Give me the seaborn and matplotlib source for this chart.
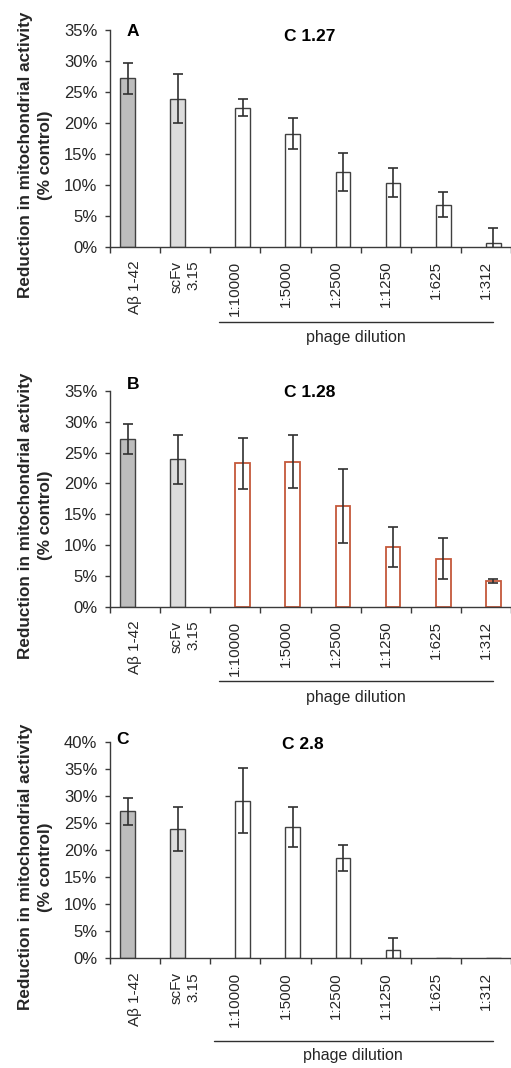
import numpy as np
import pandas as pd
import matplotlib
matplotlib.use("Agg")
import matplotlib.pyplot as plt
import seaborn as sns

# ---------------- data ----------------
categories = ["A\u03b2 1-42", "scFv\n3.15", "1:10000", "1:5000", "1:2500", "1:1250", "1:625", "1:312"]
groups = ["control", "control", "phage", "phage", "phage", "phage", "phage", "phage"]

panel_letters = ["A", "B", "C"]
panel_titles = ["C 1.27", "C 1.28", "C 2.8"]

values_A = [27.2, 23.9, 22.45, 18.25, 12.05, 10.3, 6.8, 0.65]
err_A = [2.5, 4.0, 1.4, 2.55, 3.1, 2.35, 2.0, 2.3]
values_B = [27.2, 23.9, 23.3, 23.55, 16.4, 9.7, 7.8, 4.2]
err_B = [2.5, 4.0, 4.15, 4.35, 6.0, 3.3, 3.3, 0.3]
values_C = [27.2, 24.0, 29.2, 24.4, 18.6, 1.5, 0.0, 0.0]
err_C = [2.5, 4.1, 6.0, 3.7, 2.4, 2.25, 0.0, 0.0]

y_max = [35, 35, 40]
y_label = "Reduction in mitochondrial activity\n(% control)"
group_label = "phage dilution"

# ---------------- style ----------------
sns.set_style("ticks")
plt.rcParams["font.family"] = ["Liberation Sans", "DejaVu Sans"]
TXT = "#262626"
AX = "#3a3a3a"

fig = plt.figure(figsize=(5.11, 10.68), dpi=100)
H = 1068.0
W = 511.0

# pixel geometry of axes (top, bottom)
rows = [(30.0, 246.7), (391.0, 606.7), (742.3, 958.3)]
left_px, right_px = 110.0, 511.0

control_colors = ["#bdbdbd", "#dcdcdc"]
phage_edges = ["#404040", "#c4583a", "#404040"]

panels = [(values_A, err_A), (values_B, err_B), (values_C, err_C)]

# positions for annotations (axes-fraction y, data x)
letter_pos = [(-0.04, 0.995), (-0.04, 1.028), (-0.25, 1.011)]
title_pos = [(3.48, 0.972), (3.48, 0.995), (3.34, 0.992)]
line_pos = [(1.665, 7.14, -0.346, -0.418), (1.665, 7.14, -0.344, -0.423),
            (1.567, 7.14, -0.381, -0.449)]

for i, (vals, errs) in enumerate(panels):
    top, bot = rows[i]
    ax = fig.add_axes([left_px / W, 1 - bot / H, (right_px - left_px) / W, (bot - top) / H])
    df = pd.DataFrame({"cat": categories, "grp": groups, "val": vals, "err": errs})
    sns.barplot(data=df, x="cat", y="val", hue="grp", order=categories,
                hue_order=["control", "phage"], dodge=True, width=0.59,
                errorbar=None, legend=False, ax=ax, linewidth=1.0)
    # colours
    for j, p in enumerate(ax.containers[0].patches):
        p.set_facecolor(control_colors[j])
        p.set_edgecolor("#404040")
        p.set_linewidth(1.0)
    for p in ax.containers[1].patches:
        p.set_facecolor("white")
        p.set_edgecolor(phage_edges[i])
        p.set_linewidth(1.3 if i == 1 else 1.0)
    # error bars at the bar centres
    patches = list(ax.containers[0].patches) + list(ax.containers[1].patches)
    for p, v, e in zip(patches, vals, errs):
        if e > 0:
            xc = p.get_x() + p.get_width() / 2
            ax.errorbar(xc, v, yerr=e, fmt="none", ecolor="#303030",
                        elinewidth=1.2, capsize=3.6, capthick=1.2, zorder=5)

    ax.set_xlim(-0.5, 7.394)
    ax.set_ylim(0, y_max[i])
    yt = np.arange(0, y_max[i] + 1, 5)
    ax.set_yticks(yt)
    ax.set_yticklabels([f"{t}%" for t in yt])
    ax.set_xticks(np.arange(-0.5, 8, 1))
    ax.set_xticklabels([])
    ax.set_xticks(np.arange(len(categories)), minor=True)
    ax.set_xticklabels(categories, minor=True, rotation=90, fontsize=11,
                       color=TXT, linespacing=1.3)
    for lab in ax.get_xticklabels(minor=True):
        lab.set_multialignment("right")
    ax.tick_params(axis="x", which="minor", length=0, pad=10)
    ax.tick_params(axis="x", which="major", length=4, width=1.0, color=AX, direction="out")
    ax.tick_params(axis="y", length=3.6, width=1.0, color=AX, labelsize=12,
                   labelcolor=TXT, pad=5.5, direction="out")
    ax.set_xlabel("")
    ax.set_ylabel(y_label, fontsize=12.3, fontweight="bold", color=TXT, linespacing=1.45)
    ax.yaxis.set_label_coords(-0.142, 0.423)
    sns.despine(ax=ax)
    for s in ["left", "bottom"]:
        ax.spines[s].set_color(AX)
        ax.spines[s].set_linewidth(1.0)

    lx, ly = letter_pos[i]
    ax.text(lx, ly, panel_letters[i], transform=ax.get_xaxis_transform(),
            ha="center", va="center", fontsize=12.5, fontweight="bold", color="black")
    tx, ty = title_pos[i]
    ax.text(tx, ty, panel_titles[i], transform=ax.get_xaxis_transform(),
            ha="center", va="center", fontsize=12.5, fontweight="bold", color="black")
    x0, x1, yl, yt_ = line_pos[i]
    ax.plot([x0, x1], [yl, yl], transform=ax.get_xaxis_transform(), color="#303030",
            lw=1.0, clip_on=False)
    ax.text((x0 + x1) / 2, yt_, group_label, transform=ax.get_xaxis_transform(),
            ha="center", va="center", fontsize=11.5, color=TXT)

fig.savefig("out.png", dpi=100)
